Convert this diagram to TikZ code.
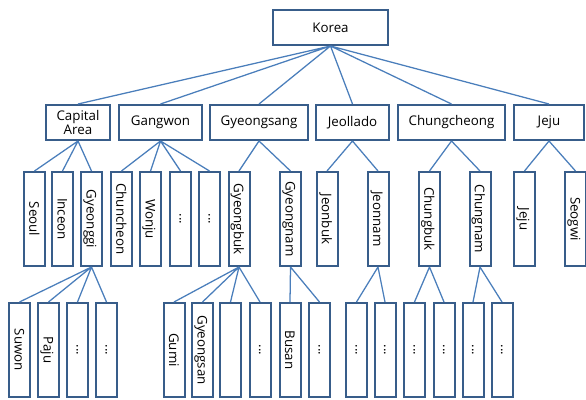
\documentclass[tikz,border=0pt]{standalone}
\usepackage{fontspec}
\setmainfont{Open Sans}
\usetikzlibrary{positioning}
\definecolor{boxblue}{RGB}{56,93,138}
\definecolor{lineblue}{RGB}{74,126,187}
\newcommand{\vlabel}[1]{\rotatebox{-90}{\raisebox{0pt}[\height][0pt]{#1}}}

\begin{document}
\begin{tikzpicture}[x=0.75pt, y=-0.75pt,
  region/.style={draw=boxblue, line width=1.5pt, fill=white, font=\fontsize{10}{11}\selectfont, align=center, minimum height=26.25pt, inner sep=1pt},
  city/.style={draw=boxblue, line width=1.5pt, fill=white, font=\fontsize{10}{11}\selectfont, minimum width=15.75pt, minimum height=70.5pt, inner sep=0pt},
  link/.style={draw=lineblue, line width=0.95pt}
]
\useasboundingbox (0,0) rectangle (586,400);

% Top
\node[region, minimum width=86.25pt] (korea) at (330.5, 27.5) {Korea};

% Regions
\node[region, minimum width=48pt] (capital) at (78, 122.5) {Capital\\[-1pt]Area};
\node[region, minimum width=62.25pt] (gangwon) at (160.5, 122.5) {Gangwon};
\node[region, minimum width=73.5pt] (gyeongsang) at (259, 122.5) {Gyeongsang};
\node[region, minimum width=54.75pt] (jeollado) at (352.5, 122.5) {Jeollado};
\node[region, minimum width=80.25pt] (chungcheong) at (451.5, 122.5) {Chungcheong};
\node[region, minimum width=52.5pt] (jejudo) at (549, 122.5) {Jeju};

% Provinces and cities
\node[city] (seoul) at (34.5, 219) {\vlabel{Seoul}};
\node[city] (inceon) at (62.5, 219) {\vlabel{Inceon}};
\node[city] (gyeonggi) at (91.5, 219) {\vlabel{Gyeonggi}};
\node[city] (chuncheon) at (121.5, 219) {\vlabel{Chuncheon}};
\node[city] (wonju) at (150.5, 219) {\vlabel{Wonju}};
\node[city] (gwA) at (180.5, 219) {\vlabel{...}};
\node[city] (gwB) at (209.5, 219) {\vlabel{...}};
\node[city] (gyeongbuk) at (239, 219) {\vlabel{Gyeongbuk}};
\node[city] (gyeongnam) at (290.5, 219) {\vlabel{Gyeongnam}};
\node[city] (jeonbuk) at (327, 219) {\vlabel{Jeonbuk}};
\node[city] (jeonnam) at (378, 219) {\vlabel{Jeonnam}};
\node[city] (chungbuk) at (429.5, 219) {\vlabel{Chungbuk}};
\node[city] (chungnam) at (480, 219) {\vlabel{Chungnam}};
\node[city] (jejusi) at (524.5, 219) {\vlabel{Jeju}};
\node[city] (seogwi) at (575.5, 219) {\vlabel{Seogwi}};

% Bottom row
\node[city] (suwon) at (19.5, 350) {\vlabel{Suwon}};
\node[city] (paju) at (48.5, 350) {\vlabel{Paju}};
\node[city] (ggA) at (77.5, 350) {\vlabel{...}};
\node[city] (ggB) at (106.5, 350) {\vlabel{...}};
\node[city] (gumi) at (174, 350) {\vlabel{Gumi}};
\node[city] (gyeongsan) at (202.5, 350) {\vlabel{Gyeongsan}};
\node[city] (gbA) at (230.5, 350) {};
\node[city] (gbB) at (260, 350) {\vlabel{...}};
\node[city] (busan) at (290, 350) {\vlabel{Busan}};
\node[city] (gnA) at (319.5, 350) {\vlabel{...}};
\node[city] (jnA) at (356.5, 350) {\vlabel{...}};
\node[city] (jnB) at (385, 350) {\vlabel{...}};
\node[city] (cbA) at (414.5, 350) {\vlabel{...}};
\node[city] (cbB) at (444, 350) {\vlabel{...}};
\node[city] (cnA) at (473, 350) {\vlabel{...}};
\node[city] (cnB) at (502, 350) {\vlabel{...}};

% Connections
\draw[link] (korea.south) -- (capital.north) (korea.south) -- (gangwon.north) (korea.south) -- (gyeongsang.north);
\draw[link] (korea.south) -- (jeollado.north) (korea.south) -- (chungcheong.north) (korea.south) -- (jejudo.north);
\draw[link] (capital.south) -- (seoul.north) (capital.south) -- (inceon.north) (capital.south) -- (gyeonggi.north);
\draw[link] (gangwon.south) -- (chuncheon.north) (gangwon.south) -- (wonju.north) (gangwon.south) -- (gwA.north) (gangwon.south) -- (gwB.north);
\draw[link] (gyeongsang.south) -- (gyeongbuk.north) (gyeongsang.south) -- (gyeongnam.north);
\draw[link] (jeollado.south) -- (jeonbuk.north) (jeollado.south) -- (jeonnam.north);
\draw[link] (chungcheong.south) -- (chungbuk.north) (chungcheong.south) -- (chungnam.north);
\draw[link] (jejudo.south) -- (jejusi.north) (jejudo.south) -- (seogwi.north);
\draw[link] (gyeonggi.south) -- (suwon.north) (gyeonggi.south) -- (paju.north) (gyeonggi.south) -- (ggA.north) (gyeonggi.south) -- (ggB.north);
\draw[link] (gyeongbuk.south) -- (gumi.north) (gyeongbuk.south) -- (gyeongsan.north) (gyeongbuk.south) -- (gbA.north) (gyeongbuk.south) -- (gbB.north);
\draw[link] (gyeongnam.south) -- (busan.north) (gyeongnam.south) -- (gnA.north);
\draw[link] (jeonnam.south) -- (jnA.north) (jeonnam.south) -- (jnB.north);
\draw[link] (chungbuk.south) -- (cbA.north) (chungbuk.south) -- (cbB.north);
\draw[link] (chungnam.south) -- (cnA.north) (chungnam.south) -- (cnB.north);

\end{tikzpicture}
\end{document}
